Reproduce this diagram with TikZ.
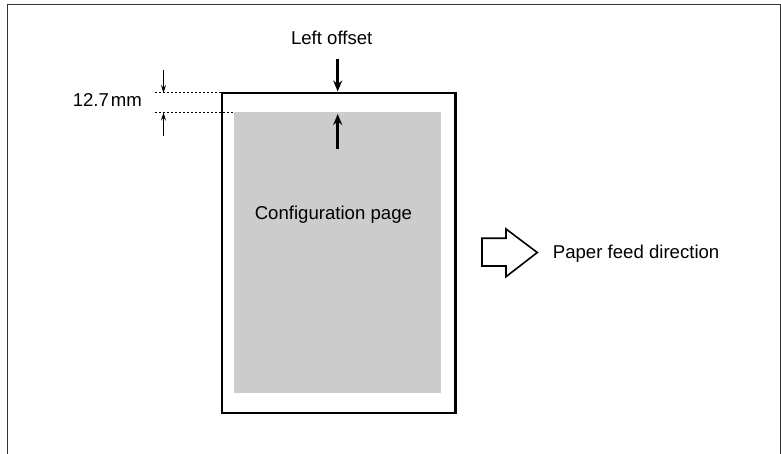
\documentclass[tikz,border=0pt]{standalone}
\usepackage{fontspec}
\setmainfont{Liberation Sans}
\usetikzlibrary{arrows.meta}
\definecolor{pagegray}{HTML}{CCCCCC}
\definecolor{framegray}{HTML}{333333}
\tikzset{
  lbl/.style={font=\fontsize{18.6}{22}\selectfont, inner sep=0pt, anchor=base},
  dimline/.style={line width=1pt, -{Stealth[length=8pt,width=5pt]}},
  offarrow/.style={line width=2.6pt, -{Stealth[length=11pt,width=9pt]}},
  dotline/.style={line width=1pt, dash pattern=on 2pt off 2pt},
}
\begin{document}
\begin{tikzpicture}[x=1pt,y=-1pt]
\useasboundingbox (0,0) rectangle (781,454);
% outer frame (open at bottom)
\draw[framegray, line width=1pt] (7.5,454) -- (7.5,5) -- (780.5,5) -- (780.5,454);
% page
\fill[pagegray] (234,112.5) rectangle (441,392.5);
\draw[line width=2.5pt] (222,93) rectangle (455.5,413);
% coordinates
\coordinate (ptop) at (222,93);
\coordinate (gtop) at (234,112.5);
\coordinate (d1) at (155,93);
\coordinate (d2) at (155,112.5);
\coordinate (a1s) at (163.5,70);
\coordinate (a1e) at (163.5,93);
\coordinate (a2s) at (163.5,136);
\coordinate (a2e) at (163.5,112.5);
\coordinate (o1s) at (337.7,59);
\coordinate (o1e) at (337.7,91.5);
\coordinate (o2s) at (337.7,149);
\coordinate (o2e) at (337.7,114);
% dotted extension lines
\draw[dotline] (d1) -- (ptop);
\draw[dotline] (d2) -- (gtop);
% dimension arrows
\draw[dimline] (a1s) -- (a1e);
\draw[dimline] (a2s) -- (a2e);
% left offset arrows
\draw[offarrow] (o1s) -- (o1e);
\draw[offarrow] (o2s) -- (o2e);
% texts
\node[lbl] (lo) at (331.7,45) {Left offset};
\node[lbl] (dim) at (107.4,106.7) {12.7\kern2pt mm};
\node[lbl] (cp) at (333.4,220) {Configuration page};
\node[lbl, anchor=base west] (pf) at (552.7,258.3) {Paper feed direction};
% block arrow
\draw[line width=1.6pt, line join=miter, fill=white] (482,238.3) -- (506,238.3) -- (506,229) -- (537.3,252.5) -- (506,276.7) -- (506,266) -- (482,266) -- cycle;
\end{tikzpicture}
\end{document}
